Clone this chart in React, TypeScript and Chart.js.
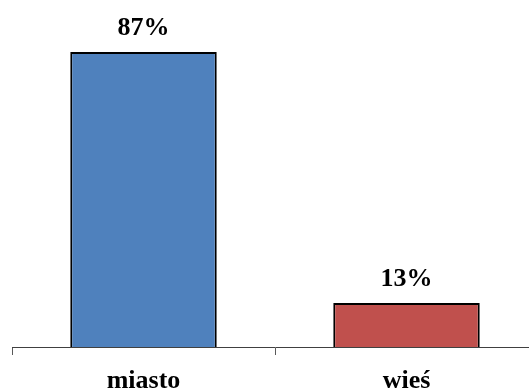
import React, { useEffect, useRef } from "react";
import { Chart, registerables } from "chart.js";

Chart.register(...registerables);

const categories = ["miasto", "wieś"];
const values = [87, 13];
const valueLabels = ["87%", "13%"];
const barColors = ["#4F81BD", "#C0504D"];

const FONT = "'Liberation Serif', 'Times New Roman', serif";

const valueLabelPlugin = {
  id: "valueLabels",
  afterDatasetsDraw(chart: any) {
    const ctx = chart.ctx;
    const meta = chart.getDatasetMeta(0);
    ctx.save();
    ctx.font = `bold 26px ${FONT}`;
    ctx.fillStyle = "#000";
    ctx.textAlign = "center";
    ctx.textBaseline = "alphabetic";
    meta.data.forEach((bar: any, i: number) => {
      ctx.fillText(valueLabels[i], bar.x, bar.y - 17);
    });
    ctx.restore();
  },
};

export default function App() {
  const ref = useRef<HTMLCanvasElement>(null);
  useEffect(() => {
    if (!ref.current) return;
    const chart = new Chart(ref.current, {
      type: "bar",
      data: {
        labels: categories,
        datasets: [
          {
            data: values,
            backgroundColor: barColors,
            borderColor: "#000",
            borderWidth: 2,
            barPercentage: 0.557,
            categoryPercentage: 1,
          },
        ],
      },
      options: {
        animation: false,
        responsive: false,
        maintainAspectRatio: false,
        layout: { padding: { left: 12, right: 2, top: 8, bottom: 1 } },
        plugins: { legend: { display: false }, tooltip: { enabled: false } },
        scales: {
          y: { display: false, min: 0, max: 100 },
          x: {
            offset: true,
            border: { display: true, color: "#404040", width: 1 },
            grid: {
              offset: true,
              drawOnChartArea: false,
              drawTicks: true,
              tickLength: 8,
              color: "#595959",
            },
            ticks: {
              padding: 13,
              color: "#000",
              font: { family: FONT, size: 26, weight: "bold", lineHeight: 1 },
              maxRotation: 0,
            },
          },
        },
      },
      plugins: [valueLabelPlugin],
    });
    return () => chart.destroy();
  }, []);
  return (
    <div
      style={{
        position: "absolute",
        left: 0,
        top: 0,
        width: 529,
        height: 390,
        overflow: "hidden",
        background: "#fff",
      }}
    >
      <canvas ref={ref} width={540} height={408} style={{ display: "block" }} />
    </div>
  );
}
